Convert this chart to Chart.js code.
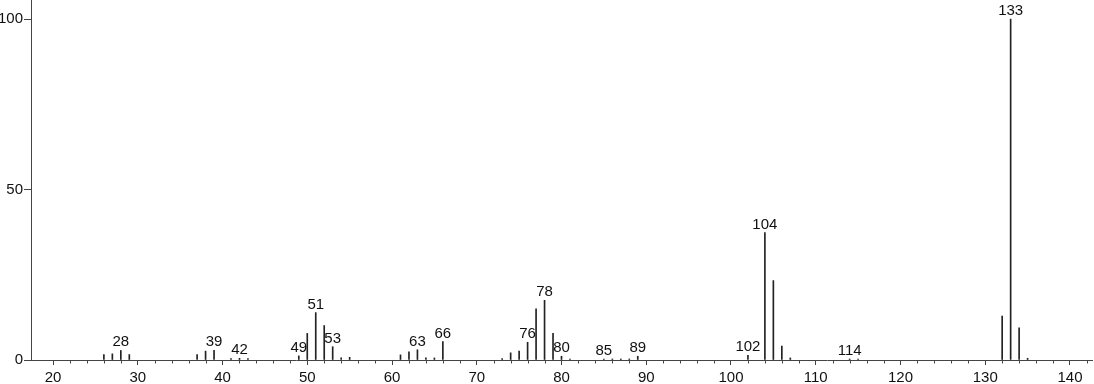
<!DOCTYPE html>
<html>
<head>
<meta charset="utf-8">
<script src="https://cdn.jsdelivr.net/npm/chart.js@4.4.1/dist/chart.umd.min.js"></script>
<style>
  html, body { margin: 0; padding: 0; background: #fff; }
  #wrap { width: 1094px; height: 384px; position: relative; }
</style>
</head>
<body>
<div id="wrap"><canvas id="spectrum"></canvas></div>
<script>
// m/z and relative intensity of each peak
const masses = [26, 27, 28, 29, 37, 38, 39, 41, 42, 43, 49, 50, 51, 52, 53, 54, 55,
  61, 62, 63, 64, 65, 66, 73, 74, 75, 76, 77, 78, 79, 80, 81, 85, 86, 87, 88, 89,
  102, 104, 105, 106, 107, 114, 115, 132, 133, 134, 135];
const intensities = [1.6, 1.8, 2.8, 1.6, 1.6, 2.6, 2.8, 0.4, 0.5, 0.4, 1.2, 7.8, 13.9, 10.1, 3.9, 0.6, 0.8,
  1.5, 2.4, 3.0, 0.6, 0.6, 5.4, 0.4, 2.1, 2.6, 5.2, 15.0, 17.5, 7.8, 1.1, 0.3, 0.3, 0.3, 0.3, 0.3, 1.1,
  1.4, 37.4, 23.3, 4.1, 0.6, 0.3, 0.3, 12.9, 100, 9.4, 0.5];
const labeledMasses = [28, 39, 42, 49, 51, 53, 63, 66, 76, 78, 80, 85, 89, 102, 104, 114, 133];
const xTickValues = [20, 30, 40, 50, 60, 70, 80, 90, 100, 110, 120, 130, 140];
const yTickValues = [0, 50, 100];

const FONT = '"Liberation Sans", Arial, sans-serif';
const FONT_SIZE = 15;
const INK = '#111';
const AXIS = '#444';

// labels above peaks + short minor ticks every 2 units
const spectrumExtras = {
  id: 'spectrumExtras',
  afterDraw(chart) {
    const { ctx, scales: { x, y } } = chart;
    ctx.save();
    ctx.font = FONT_SIZE + 'px ' + FONT;
    ctx.fillStyle = INK;
    ctx.textAlign = 'center';
    ctx.textBaseline = 'alphabetic';
    labeledMasses.forEach(m => {
      const v = intensities[masses.indexOf(m)];
      ctx.fillText(String(m), x.getPixelForValue(m), y.getPixelForValue(v) - 4);
    });

    ctx.strokeStyle = AXIS;
    ctx.lineWidth = 1;
    const base = Math.round(y.getPixelForValue(0)) + 0.5;
    for (let m = 22; m <= 142; m += 2) {
      if (m % 10 === 0) continue;
      const px = Math.round(x.getPixelForValue(m)) + 0.5;
      ctx.beginPath();
      ctx.moveTo(px, base);
      ctx.lineTo(px, base + 3);
      ctx.stroke();
    }
    ctx.restore();
  }
};

const noPad = s => {
  s.paddingTop = 0; s.paddingBottom = 0; s.paddingLeft = 0; s.paddingRight = 0;
};

new Chart(document.getElementById('spectrum'), {
  type: 'bar',
  data: {
    datasets: [{
      data: masses.map((m, i) => ({ x: m, y: intensities[i] })),
      backgroundColor: '#222',
      borderWidth: 0,
      barThickness: 1
    }]
  },
  options: {
    responsive: true,
    maintainAspectRatio: false,
    animation: false,
    layout: { padding: { top: 0, right: 2, bottom: 0, left: 0 } },
    plugins: { legend: { display: false }, tooltip: { enabled: false } },
    scales: {
      x: {
        type: 'linear',
        offset: false,
        min: 17.4,
        max: 142.6,
        afterBuildTicks: s => { s.ticks = xTickValues.map(v => ({ value: v })); },
        afterFit: s => { s.height = 24; noPad(s); },
        grid: { drawOnChartArea: false, color: AXIS, tickLength: 5, offset: false },
        border: { color: AXIS, width: 1 },
        ticks: { color: INK, font: { family: FONT, size: FONT_SIZE }, padding: 4, maxRotation: 0 }
      },
      y: {
        min: 0,
        max: 105.6,
        afterBuildTicks: s => { s.ticks = yTickValues.map(v => ({ value: v })); },
        afterFit: s => { s.width = 31; noPad(s); },
        grid: { drawOnChartArea: false, color: AXIS, tickLength: 7 },
        border: { color: AXIS, width: 1 },
        ticks: { color: INK, font: { family: FONT, size: FONT_SIZE }, padding: 1 }
      }
    }
  },
  plugins: [spectrumExtras]
});
</script>
</body>
</html>
